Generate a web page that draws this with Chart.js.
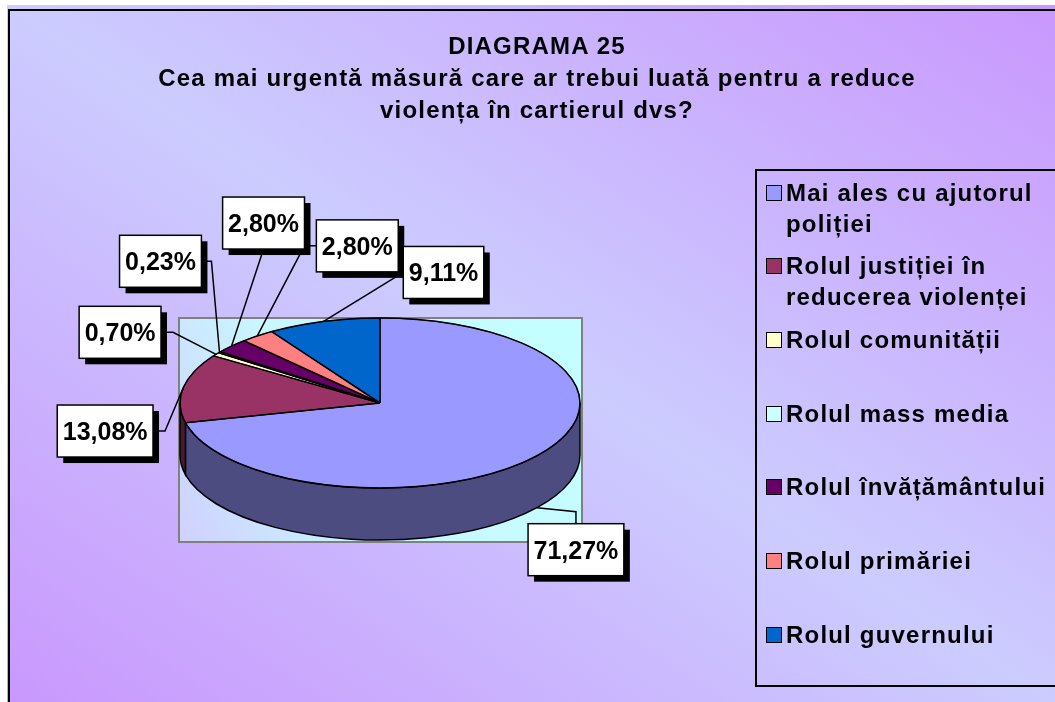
<!DOCTYPE html>
<html>
<head>
<meta charset="utf-8">
<script src="https://cdn.jsdelivr.net/npm/chart.js@4.4.0/dist/chart.umd.min.js"></script>
<style>
  html, body { margin: 0; padding: 0; background: #fff; }
  body { width: 1055px; height: 702px; position: relative; overflow: hidden; font-family: Arial, "Liberation Sans", sans-serif; }
  #bg { position: absolute; left: 7px; top: 5px; right: 0; bottom: 0;
        background: linear-gradient(to bottom left, #C998FD 0%, #CCCCFF 50%, #C998FD 100%); }
  #frame { position: absolute; left: 8px; top: 9px; width: 1100px; height: 800px; border: 2px solid #000; }
  #chart { position: absolute; left: 0; top: 0; }
  #title { position: absolute; left: 0; width: 1074px; top: 30px; text-align: center; color: #000;
           font-weight: bold; font-size: 24px; line-height: 32px; letter-spacing: 1.2px; }
  #legend { position: absolute; left: 755px; top: 169px; width: 400px; height: 518px;
            box-sizing: border-box; border: 2px solid #000; }
  .item { position: absolute; left: 9px; display: flex; align-items: flex-start; }
  .swatch { width: 14px; height: 14px; border: 1.5px solid #000; margin-top: 8px; flex: none; }
  .txt { margin-left: 4px; font-weight: bold; font-size: 24px; line-height: 31px;
         letter-spacing: 1.2px; white-space: nowrap; color: #000; }
</style>
</head>
<body>
<div id="bg"></div>
<div id="frame"></div>
<canvas id="chart" width="1055" height="702"></canvas>
<div id="title">DIAGRAMA 25<br>Cea mai urgentă măsură care ar trebui luată pentru a reduce<br>violența în cartierul dvs?</div>
<div id="legend"></div>
<script>
const categories = [
    ['Mai ales cu ajutorul', 'poliției'],
    ['Rolul justiției în', 'reducerea violenței'],
    'Rolul comunității',
    'Rolul mass media',
    'Rolul învățământului',
    'Rolul primăriei',
    'Rolul guvernului'
];
const shares = [71.27, 13.08, 0.70, 0.23, 2.80, 2.80, 9.11];
const sliceColors = ['#9999FF', '#993366', '#FFFFCC', '#CCFFFF', '#660066', '#FF8080', '#0066CC'];
const sideColors = ['#4C4C80', '#4C1933', '#808066', '#668080', '#330033', '#804040', '#003366'];

// where each label box sits, relative to the point its leader touches the pie
const labelOffsets = [[39, 42], [-78, 43], [-96, -22], [-59, -91], [32, -123], [100, -90], [120, -49]];
const leaderSides = ['top', 'right', 'right', 'right', 'bottom', 'left', 'left'];
const leaderElbows = [12, 12, 12, 10, 0, 12, 0];

const TILT = 0.425;   // vertical squash of the pie
const DEPTH = 52;     // thickness of the 3d side

// legend (html)
const legend = document.getElementById('legend');
categories.forEach((cat, i) => {
    const item = document.createElement('div');
    item.className = 'item';
    item.style.top = (5.5 + i * 73.7) + 'px';
    const sw = document.createElement('div');
    sw.className = 'swatch';
    sw.style.background = sliceColors[i];
    const txt = document.createElement('div');
    txt.className = 'txt';
    txt.innerHTML = (Array.isArray(cat) ? cat : [cat]).join('<br>');
    item.appendChild(sw);
    item.appendChild(txt);
    legend.appendChild(item);
});

function fmt(v) {
    return v.toFixed(2).replace('.', ',') + '%';
}

const pie3d = {
    id: 'pie3d',
    beforeDatasetsDraw(chart) {
        const ctx = chart.ctx;
        const arcs = chart.getDatasetMeta(0).data;
        const { x, y, outerRadius: r } = arcs[0];
        const ry = r * TILT;

        // plot area behind the pie
        const left = x - r - 1, top = y - ry, right = x + r + 2, bottom = y + ry + DEPTH + 2;
        const g = ctx.createLinearGradient(right, top, left, bottom);
        g.addColorStop(0, '#C4FFFF');
        g.addColorStop(0.6, '#C8F8FF');
        g.addColorStop(1, '#D0D0FF');
        ctx.fillStyle = g;
        ctx.fillRect(left, top, right - left, bottom - top);
        ctx.lineWidth = 2;
        ctx.strokeStyle = '#808080';
        ctx.strokeRect(left, top, right - left, bottom - top);

        // front sides
        arcs.forEach((arc, i) => {
            const a0 = Math.max(arc.startAngle, 0);
            const a1 = Math.min(arc.endAngle, Math.PI);
            if (a1 <= a0) return;
            ctx.beginPath();
            ctx.ellipse(x, y, r, ry, 0, a0, a1);
            ctx.ellipse(x, y + DEPTH, r, ry, 0, a1, a0, true);
            ctx.closePath();
            ctx.fillStyle = sideColors[i];
            ctx.fill();
            ctx.lineWidth = 1.5;
            ctx.strokeStyle = '#000';
            ctx.stroke();
        });

        ctx.save();
        ctx.translate(x, y);
        ctx.scale(1, TILT);
        ctx.translate(-x, -y);
    },
    afterDatasetsDraw(chart) {
        const ctx = chart.ctx;
        ctx.restore();
        const arcs = chart.getDatasetMeta(0).data;
        const { x, y, outerRadius: r } = arcs[0];
        const ry = r * TILT;

        // crisp outlines on the squashed top
        ctx.lineWidth = 1.5;
        ctx.strokeStyle = '#000';
        ctx.beginPath();
        ctx.ellipse(x, y, r, ry, 0, 0, Math.PI * 2);
        ctx.stroke();
        arcs.forEach(arc => {
            ctx.beginPath();
            ctx.moveTo(x, y);
            ctx.lineTo(x + Math.cos(arc.startAngle) * r, y + Math.sin(arc.startAngle) * ry);
            ctx.stroke();
        });

        // data labels
        ctx.font = 'bold 25px Arial, "Liberation Sans", sans-serif';
        const boxes = arcs.map((arc, i) => {
            const mid = (arc.startAngle + arc.endAngle) / 2;
            const sx = x + Math.cos(mid) * r;
            const sy = y + Math.sin(mid) * ry + (Math.sin(mid) > 0 ? DEPTH : 0);
            const text = fmt(shares[i]);
            const w = ctx.measureText(text).width + 11, h = 52;
            const bx = sx + labelOffsets[i][0], by = sy + labelOffsets[i][1];
            const e = leaderElbows[i];
            let ax = bx, ay = by, ex, ey;
            switch (leaderSides[i]) {
                case 'top': ay = by - h / 2; ex = ax; ey = ay - e; break;
                case 'bottom': ay = by + h / 2; ex = ax; ey = ay + e; break;
                case 'left': ax = bx - w / 2; ex = ax - e; ey = ay; break;
                default: ax = bx + w / 2; ex = ax + e; ey = ay;
            }
            return { sx, sy, ax, ay, ex, ey, bx, by, w, h, text };
        });

        ctx.lineWidth = 1.5;
        ctx.strokeStyle = '#000';
        boxes.forEach(b => {
            ctx.beginPath();
            ctx.moveTo(b.sx, b.sy);
            ctx.lineTo(b.ex, b.ey);
            ctx.lineTo(b.ax, b.ay);
            ctx.stroke();
        });

        ctx.textAlign = 'center';
        ctx.textBaseline = 'alphabetic';
        boxes.forEach(b => {
            const l = b.bx - b.w / 2, t = b.by - b.h / 2;
            ctx.fillStyle = '#000';
            ctx.fillRect(l + 6, t + 6, b.w, b.h);
            ctx.fillStyle = '#fff';
            ctx.fillRect(l, t, b.w, b.h);
            ctx.lineWidth = 1.5;
            ctx.strokeRect(l, t, b.w, b.h);
            ctx.fillStyle = '#000';
            ctx.fillText(b.text, b.bx, b.by + 9);
        });
    }
};

new Chart(document.getElementById('chart'), {
    type: 'pie',
    data: {
        labels: categories,
        datasets: [{
            data: shares,
            backgroundColor: sliceColors,
            borderColor: '#000',
            borderWidth: 1,
            clip: false
        }]
    },
    options: {
        responsive: false,
        animation: false,
        events: [],
        radius: 200,
        layout: {
            padding: { left: 180, right: 475, top: 203, bottom: 99 }
        },
        plugins: {
            legend: { display: false },
            tooltip: { enabled: false }
        }
    },
    plugins: [pie3d]
});
</script>
</body>
</html>
